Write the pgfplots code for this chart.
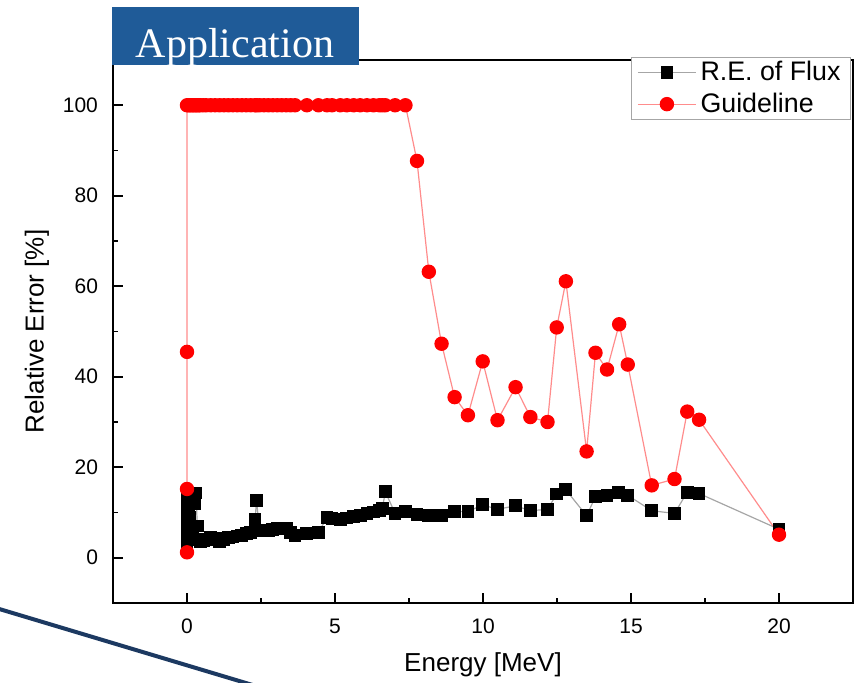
\documentclass[border=0pt]{standalone}
\usepackage{fontspec}
\setmainfont{Liberation Sans}
\newfontfamily\timesfont{Liberation Serif}
\usepackage{pgfplots}
\pgfplotsset{compat=1.18}
\definecolor{banner}{RGB}{31,91,152}
\definecolor{navy}{RGB}{28,57,97}

\begin{document}
\begin{tikzpicture}
\useasboundingbox (0,0) rectangle (428pt,-341pt);
\draw[navy, line width=2pt] (-2pt,-304pt) -- (128pt,-343pt);
\begin{axis}[
  at={(56.5pt,-301.5pt)}, anchor=south west,
  scale only axis, width=370pt, height=271.5pt,
  xmin=-2.5, xmax=22.5, ymin=-10, ymax=110,
  xtick={0,5,...,20}, ytick={0,20,...,100},
  minor xtick={2.5,7.5,12.5,17.5}, minor ytick={10,30,...,90},
  tick align=inside, xtick pos=left, ytick pos=left,
  major tick length=5pt, minor tick length=2.5pt,
  axis line style={line width=1pt},
  tick style={line width=0.8pt, black},
  /pgf/number format/assume math mode=true,
  tick label style={font=\fontsize{10.5}{12}\selectfont},
  yticklabel style={xshift=-4pt},
  xticklabel style={yshift=-4.5pt},
  xlabel={Energy [MeV]}, ylabel={Relative Error [\%]},
  label style={font=\fontsize{13}{15}\selectfont},
  xlabel style={at={(axis description cs:0.5,-0.1142)}, anchor=center},
  ylabel style={at={(axis description cs:-0.1027,0.5)}, anchor=center},
  legend style={at={(axis description cs:1,1)}, anchor=north east, xshift=-1pt, yshift=1.5pt,
    draw=gray!70, line width=0.5pt, font=\fontsize{13.4}{15}\selectfont,
    inner xsep=3pt, inner ysep=0pt, row sep=0.5pt},
  legend cell align=left,
  legend image code/.code={\draw[mark repeat=2, mark phase=2, #1] plot coordinates {(0pt,0pt) (14.5pt,0pt) (29pt,0pt)};},
]
\addplot[color=gray!70, line width=0.6pt, mark=square*, mark size=2.9pt, mark options={fill=black, draw=black, solid}] coordinates {
  (0,2.5)(0,4)(0,6)(0,8)(0,10)(0,12)(0,13.2)
  (0.05,11)(0.1,9)(0.15,6)(0.2,4.5)(0.25,12)(0.3,14.3)(0.35,7)(0.4,4)(0.45,3.5)
  (0.55,3.8)(0.65,4.0)(0.8,4.5)(0.95,4.2)(1.1,3.6)(1.25,4.1)(1.4,4.4)(1.55,4.6)
  (1.7,4.8)(1.85,5.0)(2.0,5.3)(2.15,5.6)(2.3,8.5)(2.35,12.6)(2.45,6.0)(2.6,5.9)
  (2.75,6.1)(2.9,6.3)(3.05,6.5)(3.2,6.6)(3.35,6.4)(3.5,5.5)(3.65,5.0)(4.05,5.3)
  (4.44,5.6)(4.73,8.9)(4.9,8.7)(5.18,8.4)(5.4,8.8)(5.63,9.1)(5.85,9.4)(6.08,9.8)
  (6.3,10.1)(6.5,10.5)(6.6,10.9)(6.7,14.6)(7.03,9.8)(7.38,10.2)(7.77,9.6)(8.17,9.3)
  (8.6,9.3)(9.04,10.2)(9.49,10.2)(9.99,11.7)(10.49,10.7)(11.1,11.5)(11.6,10.4)
  (12.18,10.7)(12.49,14.1)(12.8,15.0)(13.5,9.3)(13.8,13.5)(14.19,13.7)(14.57,14.4)
  (14.89,13.8)(15.7,10.4)(16.47,9.8)(16.9,14.5)(17.3,14.2)(20,6.3)
};
\addlegendentry{R.E. of Flux}
\addplot[color=red!45, line width=0.6pt, mark=*, mark size=3.3pt, mark options={fill=red, draw=red, solid}] coordinates {
  (0,1.2)(0,15.2)(0,45.5)(0,100)
  (0.05,100)(0.1,100)(0.15,100)(0.2,100)(0.25,100)(0.3,100)(0.35,100)(0.4,100)(0.45,100)
  (0.55,100)(0.65,100)(0.8,100)(0.95,100)(1.1,100)(1.25,100)(1.4,100)(1.55,100)
  (1.7,100)(1.85,100)(2.0,100)(2.15,100)(2.3,100)(2.35,100)(2.45,100)(2.6,100)
  (2.75,100)(2.9,100)(3.05,100)(3.2,100)(3.35,100)(3.5,100)(3.65,100)(4.05,100)
  (4.44,100)(4.73,100)(4.9,100)(5.18,100)(5.4,100)(5.63,100)(5.85,100)(6.08,100)
  (6.3,100)(6.5,100)(6.6,100)(6.7,100)(7.03,100)(7.38,100)(7.77,87.7)(8.17,63.2)
  (8.6,47.3)(9.04,35.5)(9.49,31.5)(9.99,43.4)(10.49,30.4)(11.1,37.7)(11.6,31.1)
  (12.18,30.0)(12.49,50.9)(12.8,61.1)(13.5,23.5)(13.8,45.3)(14.19,41.6)(14.6,51.6)
  (14.89,42.7)(15.7,16.0)(16.47,17.4)(16.9,32.3)(17.3,30.5)(20,5.1)
};
\addlegendentry{Guideline}
\end{axis}
\fill[banner] (56pt,-3.5pt) rectangle (179.5pt,-32.5pt);
\node[anchor=base, text=white, font=\timesfont\fontsize{21}{24}\selectfont, inner sep=0pt] at (117.5pt,-28.5pt) {Application};
\end{tikzpicture}
\end{document}
